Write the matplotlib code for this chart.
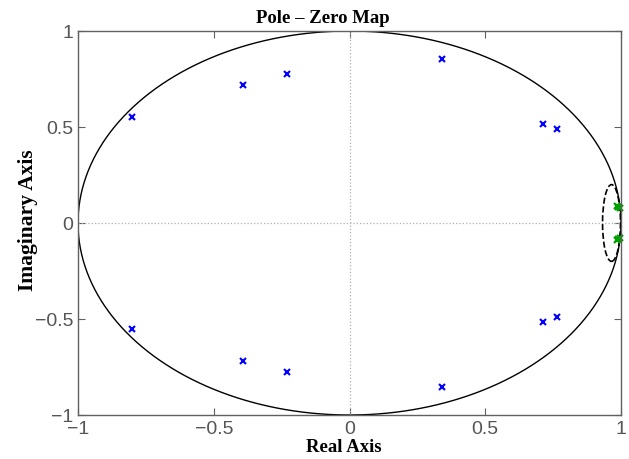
import numpy as np
import matplotlib
matplotlib.use("Agg")
import matplotlib.pyplot as plt
from matplotlib.patches import Ellipse

# Data: poles (blue) upper half; lower half is the conjugate
pole_re = [-0.80, -0.394, -0.232, 0.339, 0.711, 0.766]
pole_im = [0.552, 0.719, 0.776, 0.854, 0.516, 0.490]
# green cluster near z=1
green_re = [0.985, 0.99, 0.995]
green_im = [0.089, 0.085, 0.080]
xticks = [-1, -0.5, 0, 0.5, 1]
yticks = [-1, -0.5, 0, 0.5, 1]
tick_labels = ["\u22121", "\u22120.5", "0", "0.5", "1"]

fig = plt.figure(figsize=(6.29, 4.60), dpi=100)
ax = fig.add_axes([78/629, 1-416/460, (621-78)/629, (416-32)/460])

t = np.linspace(0, 2*np.pi, 400)
ax.plot(np.cos(t), np.sin(t), color="black", lw=1.0)
ax.add_patch(Ellipse((0.965, 0.0), 0.066, 0.40, fill=False, ls="--", lw=1.2, ec="black"))

ax.axhline(0, color="#b0b0b0", ls=":", lw=0.9)
ax.axvline(0, color="#b0b0b0", ls=":", lw=0.9)

pr = np.array(pole_re); pi_ = np.array(pole_im)
ax.plot(np.r_[pr, pr], np.r_[pi_, -pi_], ls="none", marker="x", color="blue", ms=4.5, mew=1.5)
gr = np.array(green_re); gi = np.array(green_im)
ax.plot(np.r_[gr, gr], np.r_[gi, -gi], ls="none", marker="x", color="#00a000", ms=5, mew=1.6, clip_on=False)

ax.set_xlim(-1, 1)
ax.set_ylim(-1, 1)
ax.set_xticks(xticks)
ax.set_yticks(yticks)
ax.set_xticklabels(tick_labels)
ax.set_yticklabels(tick_labels)
for s in ax.spines.values():
    s.set_color("#606060")
    s.set_linewidth(1.0)
ax.tick_params(direction="in", top=True, right=True, length=5, color="#606060",
               labelcolor="#555555", labelsize=14)
for lab in ax.get_xticklabels() + ax.get_yticklabels():
    lab.set_family(["Liberation Sans", "DejaVu Sans"])

fig.text(322.5/629, 1-23/460, "Pole \u2013 Zero Map", fontfamily="Liberation Serif",
         fontweight="bold", fontsize=13.5, ha="center", va="baseline")
ax.set_xlabel("Real Axis", fontfamily="Liberation Serif", fontweight="bold", fontsize=13.5)
ax.xaxis.set_label_coords(0.49, -0.06)
ax.set_ylabel("Imaginary Axis", fontfamily="Liberation Serif", fontweight="bold", fontsize=15.5)
ax.yaxis.set_label_coords(-0.074, 0.51)

fig.savefig("out.png", dpi=100)
